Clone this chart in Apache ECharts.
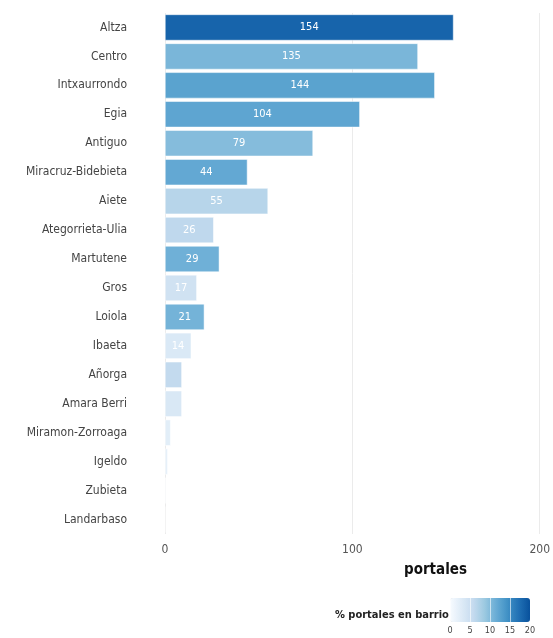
<!DOCTYPE html>
<html>
<head>
<meta charset="utf-8">
<script src="https://cdn.jsdelivr.net/npm/echarts@6/dist/echarts.min.js"></script>
<style>
  html, body { margin: 0; padding: 0; background: #fff; }
  #chart { width: 553px; height: 638px; }
</style>
</head>
<body>
<div id="chart"></div>
<script>
// barrios, number of portales and % of portales in the barrio
const barrios = [
  "Altza", "Centro", "Intxaurrondo", "Egia", "Antiguo", "Miracruz-Bidebieta",
  "Aiete", "Ategorrieta-Ulia", "Martutene", "Gros", "Loiola", "Ibaeta",
  "Añorga", "Amara Berri", "Miramon-Zorroaga", "Igeldo", "Zubieta", "Landarbaso"
];
const portales = [154, 135, 144, 104, 79, 44, 55, 26, 29, 17, 21, 14, 9, 9, 3, 1.5, 0.5, 0];
const pctBarrio = [18.3, 10.6, 12.6, 12.3, 10, 12, 6.8, 6.2, 11.2, 4.5, 10.9, 3.3, 5.9, 3.4, 2.4, 2, 1, 0];
const xTicks = [0, 100, 200];
const legendTicks = [0, 5, 10, 15, 20];

const font = "'DejaVu Sans Condensed', 'Liberation Sans Narrow', sans-serif";

let chart = echarts.init(document.getElementById("chart"));

let rows = barrios.map(function (b, i) {
  return [portales[i], b, pctBarrio[i]];
});

let option = {
  animation: false,
  textStyle: { fontFamily: font },
  title: [
    {
      text: "portales",
      left: 399, top: 558,
      textStyle: { fontFamily: font, fontSize: 15, fontWeight: "bold", color: "#111" }
    },
    {
      text: "% portales en barrio",
      left: 330, top: 605,
      textStyle: { fontFamily: font, fontSize: 11, fontWeight: "bold", color: "#222" }
    }
  ],
  grid: [
    { left: 165, right: 12, top: 13, bottom: 104 },
    { left: 450, top: 598, width: 80, height: 24 }
  ],
  xAxis: [
    {
      type: "value",
      min: xTicks[0], max: xTicks[xTicks.length - 1], interval: 100,
      axisLine: { show: false },
      axisTick: { show: false },
      axisLabel: { color: "#555", fontSize: 12, margin: 10 },
      splitLine: { lineStyle: { color: "#ebebeb" } }
    },
    {
      type: "value", gridIndex: 1, z: 10,
      min: legendTicks[0], max: legendTicks[legendTicks.length - 1], interval: 5,
      axisLine: { show: false },
      axisTick: { show: false },
      axisLabel: { color: "#444", fontSize: 9, margin: 4 },
      splitLine: { show: true, lineStyle: { color: "rgba(255,255,255,0.6)" } }
    }
  ],
  yAxis: [
    {
      type: "category",
      data: barrios,
      inverse: true,
      axisLine: { show: false },
      axisTick: { show: false },
      axisLabel: { color: "#444", fontSize: 12, margin: 38 },
      splitLine: { show: false }
    },
    {
      type: "value", gridIndex: 1, show: false
    }
  ],
  visualMap: {
    type: "continuous",
    min: 0, max: 20,
    dimension: 2,
    seriesIndex: 0,
    orient: "horizontal",
    left: 435, top: 583,
    itemWidth: 24, itemHeight: 80,
    calculable: false,
    text: null,
    showLabel: false,
    inRange: {
      color: ["#f7fbff", "#deebf7", "#c6dbef", "#9ecae1", "#6baed6", "#4292c6", "#2171b5", "#08519c"]
    }
  },
  series: [
    {
      type: "bar",
      data: rows,
      encode: { x: 0, y: 1 },
      barCategoryGap: "10%",
      itemStyle: { borderColor: "#fff", borderWidth: 0.5 },
      label: {
        show: true,
        position: "inside",
        color: "#fff",
        fontSize: 11,
        formatter: function (p) { return p.value[0] >= 10 ? p.value[0] : ""; }
      }
    }
  ]
};

chart.setOption(option);
</script>
</body>
</html>
